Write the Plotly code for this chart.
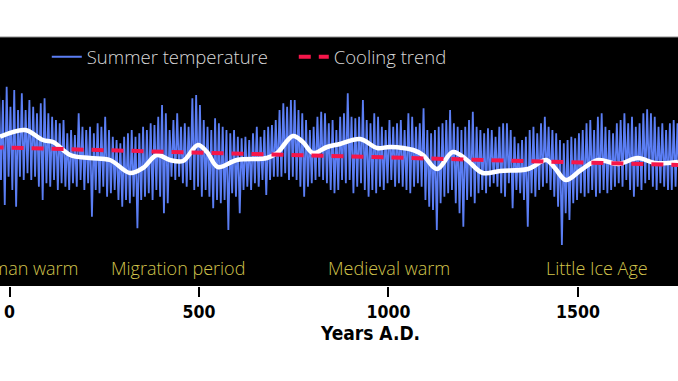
import plotly.graph_objects as go

# ---- data ----
decade_start = list(range(-30, 1770, 10))  # 180 ten-year bins

summer_hi = [
    2.27, 2.0, 2.53, 1.73, 2.4, 1.6, 2.27, 1.6, 2.0, 1.73,
    1.47, 1.87, 2.07, 1.47, 1.33, 1.2, 1.07, 1.2, 0.67, 0.8,
    0.6, 1.47, 0.93, 0.8, 0.93, 0.67, 1.07, 0.93, 1.33, 0.8,
    0.53, 0.4, 0.27, 0.53, 0.67, 0.8, 0.53, 0.67, 0.93, 0.8,
    1.07, 1.0, 1.33, 1.8, 1.47,
    0.8, 1.2, 1.47, 0.93, 1.07, 0.93, 2.07, 2.2, 1.8, 1.2,
    0.93, 0.8, 1.27, 1.07, 0.93, 0.8, 0.67, 0.8, 0.53, 0.47,
    0.53, 0.4, 0.67, 0.93, 0.53, 0.8, 0.93, 1.0, 1.2, 1.6,
    1.87, 1.73, 2.0, 2.0, 1.6, 1.47, 1.2, 0.8, 0.93, 1.33,
    1.53, 1.47, 1.07, 1.2, 0.8,
    1.33, 1.47, 2.27, 1.33, 1.27, 1.33, 2.0, 1.2, 1.07, 1.47,
    1.33, 0.93, 0.8, 1.2, 0.93, 1.07, 1.2, 0.8, 1.47, 1.33,
    0.93, 1.07, 1.67, 0.8, 0.67, 0.8, 0.93, 1.07, 1.2, 1.6,
    1.07, 0.93, 0.8, 0.93, 1.2, 1.53, 0.93, 0.8, 0.67, 0.87,
    0.8, 0.53, 0.93, 1.07,
    1.07, 0.8, 0.53, 0.27, 0.4, 0.53, 0.8, 0.93, 0.67, 1.07,
    1.33, 0.93, 0.8, 0.67, 0.4, 0.27, 0.4, 0.53, 0.47, 0.67,
    0.8, 1.07, 1.2, 0.8, 1.33, 1.47, 0.93, 0.8, 0.67, 1.07,
    1.2, 1.47, 1.07, 1.33, 0.93, 1.07, 1.47, 1.63, 1.47, 1.33,
    0.93, 1.07, 0.8, 1.07, 1.2,
    1.07,
]

summer_lo = [
    -1.2, -2.2, -1.07, -1.6, -2.27, -1.07, -1.2, -0.93, -1.2, -1.07,
    -1.47, -2.0, -1.33, -1.47, -1.2, -1.6, -1.33, -1.47, -1.6, -1.33,
    -1.47, -1.2, -1.6, -1.33, -2.67, -1.6, -1.73, -1.47, -1.87, -1.73,
    -1.6, -2.0, -2.27, -2.0, -2.13, -1.87, -3.13, -2.0, -1.87, -1.73,
    -2.0, -1.6, -1.87, -2.53, -2.13,
    -1.07, -1.2, -1.07, -1.33, -1.47, -1.2, -1.6, -1.47, -1.87, -1.6,
    -1.87, -2.33, -2.0, -2.13, -2.0, -3.2, -1.73, -1.87, -2.53, -1.6,
    -1.47, -1.6, -1.33, -1.47, -1.2, -1.8, -1.2, -1.07, -1.07, -1.07,
    -0.93, -1.2, -1.07, -1.2, -1.47, -1.87, -1.47, -1.33, -1.2, -1.07,
    -1.2, -1.33, -1.6, -1.73, -1.6,
    -1.2, -1.33, -1.2, -1.73, -1.47, -1.33, -1.6, -1.87, -1.6, -1.73,
    -1.47, -1.6, -1.33, -1.2, -1.47, -1.33, -1.47, -1.6, -1.73, -1.47,
    -1.33, -1.47, -2.0, -2.27, -2.4, -3.2, -2.13, -1.87, -1.73, -1.6,
    -2.13, -2.53, -3.07, -2.0, -1.87, -2.13, -1.73, -1.6, -1.73, -1.47,
    -1.33, -1.47, -1.73, -1.87,
    -1.33, -2.33, -1.6, -1.73, -2.0, -3.07, -1.73, -1.87, -1.6, -1.47,
    -1.33, -1.6, -1.87, -2.27, -3.8, -2.53, -2.8, -2.13, -2.0, -1.73,
    -1.87, -1.73, -1.6, -1.87, -1.73, -1.6, -1.73, -1.6, -1.47, -1.33,
    -1.47, -1.2, -1.6, -1.87, -1.47, -1.6, -1.33, -1.2, -1.47, -1.6,
    -1.33, -1.47, -1.6, -1.6, -1.47,
    -1.47,
]

smooth_years = [-25, 41, 88, 115, 160, 212, 265, 318, 352, 389, 423, 458, 497, 521,
                550, 600, 679, 706, 748, 774, 801, 838, 872, 925, 970, 1004, 1065,
                1091, 1128, 1170, 1207, 1249, 1294, 1368, 1416, 1439, 1468, 1508,
                1553, 1606, 1658, 1703, 1764]
smooth_vals = [0.53, 0.80, 0.40, 0.32, -0.20, -0.32, -0.40, -0.92, -0.72, -0.20, -0.40,
               -0.44, 0.20, -0.08, -0.68, -0.40, -0.32, -0.12, 0.56, 0.32, -0.12, 0.12,
               0.24, 0.44, 0.08, 0.12, 0.0, -0.20, -0.76, -0.08, -0.40, -0.92, -0.84,
               -0.76, -0.40, -0.72, -1.20, -0.80, -0.40, -0.56, -0.32, -0.52, -0.48]

trend_years = [-100, 2000]
trend_vals = [0.13, -0.69]

period_names = ["Roman warm", "Migration period", "Medieval warm", "Little Ice Age"]
period_years = [186, 445, 1001, 1550]
period_anchor = ["right", "center", "center", "center"]
period_y = -4.72

x_ticks = [0, 500, 1000, 1500]
x_title = "Years A.D."

# ---- build annual-style zigzag from bin extremes ----
zx, zy = [], []
for s, h, l in zip(decade_start, summer_hi, summer_lo):
    zx += [s + 2.5, s + 7.5]
    zy += [h, l]

LIGHT = "Open Sans"
BOLD = "DejaVu Sans Condensed, Liberation Sans, Arial, sans-serif"

fig = go.Figure()
fig.add_trace(go.Scatter(
    x=zx, y=zy, mode="lines", name="Summer temperature",
    line=dict(color="#5b7ef4", width=1.8, simplify=False),
))
fig.add_trace(go.Scatter(
    x=smooth_years, y=smooth_vals, mode="lines", showlegend=False,
    line=dict(color="white", width=4.5, shape="spline", smoothing=1.0),
))
fig.add_trace(go.Scatter(
    x=trend_years, y=trend_vals, mode="lines", name="Cooling trend",
    line=dict(color="#f5164a", width=4, dash="12px,8px"),
))

for name, yr, anc in zip(period_names, period_years, period_anchor):
    fig.add_annotation(x=yr, y=period_y, text=name, showarrow=False,
                       xanchor=anc, yanchor="middle",
                       font=dict(family=LIGHT, size=18, color="#d2c44c", weight=300))

# x-axis title (placed off-centre as in the reference)
fig.add_annotation(x=0.546, y=-0.189, xref="paper", yref="paper", text="<b>" + x_title + "</b>",
                   showarrow=False, xanchor="center", yanchor="middle",
                   font=dict(family=BOLD, size=19, color="black"))

fig.add_shape(type="line", xref="paper", yref="paper", x0=0, x1=1, y0=1, y1=1,
              line=dict(color="#8a8a8a", width=1))

fig.update_layout(
    width=678, height=381,
    margin=dict(l=0, r=0, t=37, b=95, autoexpand=False),
    paper_bgcolor="white", plot_bgcolor="black",
    showlegend=True,
    legend=dict(orientation="h", x=0.069, y=0.995, xanchor="left", yanchor="top",
                bgcolor="rgba(0,0,0,0)",
                font=dict(family=LIGHT, size=18.5, color="#d8d8d8", weight=300),
                entrywidth=202, entrywidthmode="pixels"),
    xaxis=dict(range=[-25.07, 1763.9], tickvals=x_ticks, ticktext=[str(t) for t in x_ticks],
               automargin=False,
               ticks="outside", ticklen=10, tickwidth=2, tickcolor="black",
               showgrid=False, zeroline=False, showline=False,
               tickfont=dict(family=BOLD, size=17.5, color="black", weight="bold")),
    yaxis=dict(range=[-5.44, 4.52], showticklabels=False, showgrid=False, zeroline=False,
               automargin=False, ticks="", showline=False),
)

fig.write_html("out.html", config={"displayModeBar": False},
               post_script="document.body.style.margin='0';")
